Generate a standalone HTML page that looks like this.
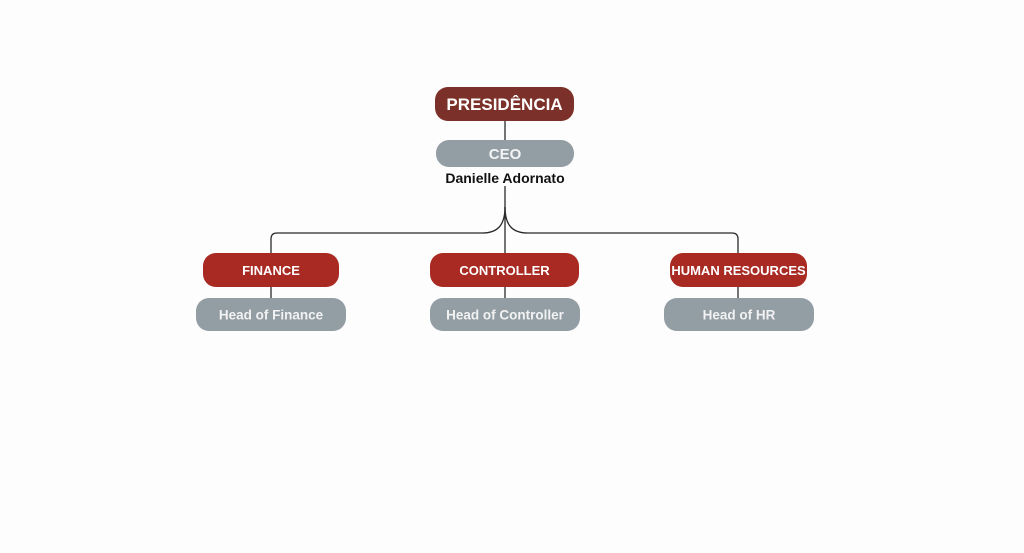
<!DOCTYPE html>
<html>
<head>
<meta charset="utf-8">
<style>
  html,body{margin:0;padding:0;background:#fdfdfd;}
  body{width:1024px;height:553px;overflow:hidden;}
  svg{display:block;}
  text{font-family:"Liberation Sans",Arial,sans-serif;font-weight:bold;}
</style>
</head>
<body>
<svg width="1024" height="553" viewBox="0 0 1024 553" xmlns="http://www.w3.org/2000/svg">
  <rect x="0" y="0" width="1024" height="553" fill="#fdfdfd"/>

  <!-- connectors -->
  <g stroke="#2a2a2a" stroke-width="1.3" fill="none">
    <line x1="505" y1="120" x2="505" y2="141"/>
    <line x1="505" y1="186" x2="505" y2="254"/>
    <path d="M505,207 C505,226 497,233 482,233 L277,233 Q271,233 271,239 L271,254"/>
    <path d="M505,207 C505,226 513,233 528,233 L732,233 Q738,233 738,239 L738,254"/>
    <line x1="271" y1="286" x2="271" y2="299"/>
    <line x1="505" y1="286" x2="505" y2="299"/>
    <line x1="738" y1="286" x2="738" y2="299"/>
  </g>

  <!-- Presidencia -->
  <rect x="435" y="87" width="139" height="34" rx="13" fill="#7b3129"/>
  <text x="504.5" y="110" font-size="17" fill="#ffffff" text-anchor="middle">PRESIDÊNCIA</text>

  <!-- CEO -->
  <rect x="436" y="140" width="138" height="27" rx="13" fill="#929da4"/>
  <text x="505" y="159" font-size="15" fill="#f4f4f4" text-anchor="middle">CEO</text>
  <text x="505" y="183" font-size="14" fill="#111111" text-anchor="middle">Danielle Adornato</text>

  <!-- Finance -->
  <rect x="203" y="253" width="136" height="34" rx="13" fill="#a82a23"/>
  <text x="271" y="275" font-size="13" fill="#ffffff" text-anchor="middle">FINANCE</text>
  <rect x="196" y="298" width="150" height="33" rx="13" fill="#929da4"/>
  <text x="271" y="319.5" font-size="13.5" fill="#f2f2f2" text-anchor="middle">Head of Finance</text>

  <!-- Controller -->
  <rect x="430" y="253" width="149" height="34" rx="13" fill="#a82a23"/>
  <text x="504.5" y="275" font-size="13" fill="#ffffff" text-anchor="middle">CONTROLLER</text>
  <rect x="430" y="298" width="150" height="33" rx="13" fill="#929da4"/>
  <text x="505" y="319.5" font-size="13.5" fill="#f2f2f2" text-anchor="middle">Head of Controller</text>

  <!-- Human Resources -->
  <rect x="670" y="253" width="137" height="34" rx="13" fill="#a82a23"/>
  <text x="738.5" y="275" font-size="13" fill="#ffffff" text-anchor="middle">HUMAN RESOURCES</text>
  <rect x="664" y="298" width="150" height="33" rx="13" fill="#929da4"/>
  <text x="739" y="319.5" font-size="13.5" fill="#f2f2f2" text-anchor="middle">Head of HR</text>
</svg>
</body>
</html>
